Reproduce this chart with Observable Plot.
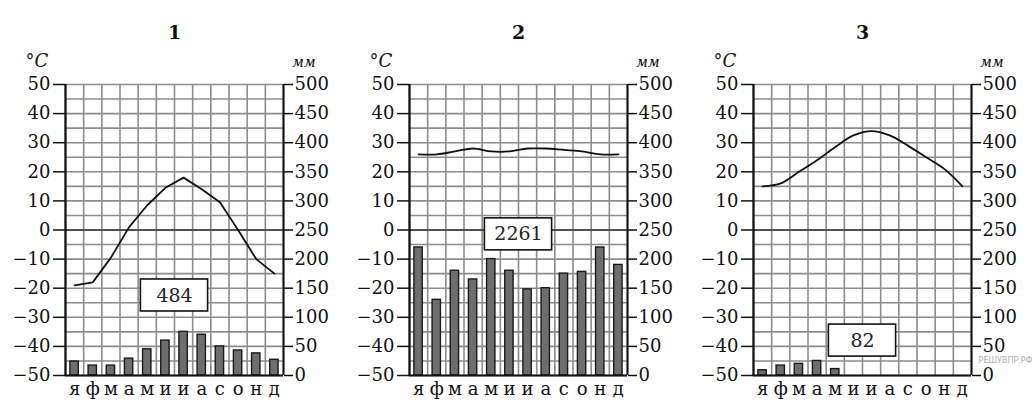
<!DOCTYPE html>
<html><head><meta charset="utf-8">
<script src="https://cdn.jsdelivr.net/npm/d3@7"></script>
<script src="https://cdn.jsdelivr.net/npm/@observablehq/plot@0.6"></script>
<style>
body{margin:0;background:#fff;}
#wrap{display:flex;width:1033px;}
svg{font-family:"DejaVu Serif",serif;}
</style></head><body><div id="wrap"></div>
<script>
const months = ["я","ф","м","а","м","и","и","а","с","о","н","д"];
const titles = ["1","2","3"];
const totals = ["484","2261","82"];
const totalLabelTemp = [-22.5, -1.5, -38];
const temp1 = [-19, -18, -9.5, 1, 8.5, 14.5, 18, 14, 9.5, 0, -10, -15];
const temp2 = [26, 26, 27, 28, 27, 27, 28, 28, 27.5, 27, 26, 26];
const temp3 = [15, 16, 20, 24, 28.5, 32.5, 34, 32.5, 29, 25, 21, 15];
const prec1 = [24, 17, 17, 29, 45, 60, 75, 70, 50, 43, 38, 27];
const prec2 = [220, 130, 180, 165, 200, 180, 148, 150, 175, 178, 220, 190];
const prec3 = [9, 17, 20, 25, 11, 0, 0, 0, 0, 0, 0, 0];
const temps = [temp1, temp2, temp3];
const precs = [prec1, prec2, prec3];
const curves = ["linear", "catmull-rom", "catmull-rom"];
const watermark = "РЕШУВПР.РФ";

const toT = mm => -50 + mm / 5;
const W = 344, H = 403;

for (let p = 0; p < 3; p++) {
  const rows = months.map((m, i) => ({i, m, t: temps[p][i], mm: precs[p][i]}));
  const box = [{x: 6, y: totalLabelTemp[p], label: totals[p]}];
  const marks = [
      Plot.gridY(d3.range(-50, 51, 5), {stroke: "#8c8c8c", strokeOpacity: 1, strokeWidth: 1.6}),
      Plot.gridX(d3.range(0, 13, 1), {stroke: "#8c8c8c", strokeOpacity: 1, strokeWidth: 1.6}),
      Plot.ruleY([0], {stroke: "#333", strokeWidth: 1.6}),
      Plot.rect(rows.filter(d => d.mm > 0), {
        x1: d => d.i + 0.27, x2: d => d.i + 0.73,
        y1: -50, y2: d => toT(d.mm),
        fill: "#6e6e6e", stroke: "#1a1a1a", strokeWidth: 1.4
      }),
      Plot.line(rows, {x: d => d.i + 0.5, y: "t", stroke: "#111", strokeWidth: 1.8, curve: curves[p]}),
      Plot.rect(box, {x1: d => d.x - 1.85, x2: d => d.x + 1.85, y1: d => d.y - 5.5, y2: d => d.y + 5.5,
        fill: "white", stroke: "#111", strokeWidth: 1.6}),
      Plot.text(box, {x: "x", y: "y", text: "label", fontSize: 19, fill: "#222"}),
      Plot.axisY(d3.range(-50, 51, 10), {anchor: "left", tickSize: 12, tickPadding: 3, label: null,
        fontSize: 18, stroke: "#111", strokeWidth: 1.5}),
      Plot.axisY(d3.range(-50, 51, 10), {anchor: "right", tickSize: 9, tickPadding: 2, label: null,
        tickFormat: d => String((d + 50) * 5), fontSize: 18, stroke: "#111", strokeWidth: 1.5}),
      Plot.axisX(d3.range(0.5, 12, 1), {anchor: "bottom", tickSize: 0, tickPadding: 7, label: null,
        tickFormat: d => months[Math.floor(d)], fontSize: 18}),
      Plot.ruleX([0], {stroke: "#111", strokeWidth: 2.2}),
      Plot.ruleX([12], {stroke: "#111", strokeWidth: 2}),
      Plot.ruleY([-50], {stroke: "#111", strokeWidth: 2.2}),
      Plot.text([titles[p]], {frameAnchor: "top", dy: -59, fontSize: 19, fontWeight: "bold", fill: "#111"}),
      Plot.text(["°C"], {frameAnchor: "top-left", dx: -40, dy: -30, fontSize: 18, fontStyle: "italic", fill: "#111"}),
      Plot.text(["мм"], {frameAnchor: "top-right", dx: 32, dy: -27, fontSize: 14, fontStyle: "italic", fill: "#111"})
  ];
  if (p === 2) marks.push(Plot.text([watermark], {frameAnchor: "bottom-right", dx: 61, dy: -13,
    textAnchor: "end", fontSize: 8, fill: "#b0b0b0", fontFamily: "DejaVu Sans"}));
  const chart = Plot.plot({
    width: W, height: H,
    marginLeft: 65, marginRight: 61, marginTop: 84, marginBottom: 28,
    x: {domain: [0, 12]},
    y: {domain: [-50, 50]},
    style: {fontFamily: "DejaVu Serif, serif", fontSize: "17px", color: "#111"},
    marks
  });
  document.getElementById("wrap").appendChild(chart);
}
</script></body></html>
